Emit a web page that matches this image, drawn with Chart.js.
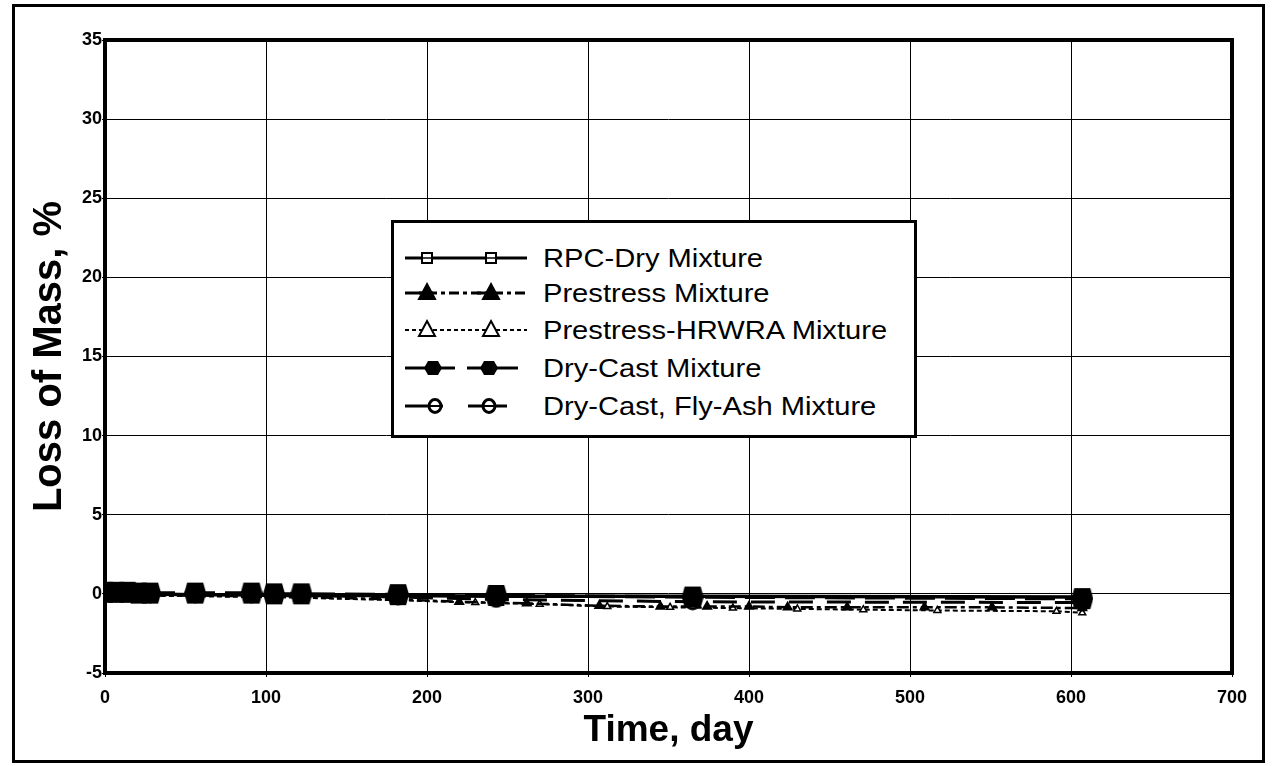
<!DOCTYPE html>
<html>
<head>
<meta charset="utf-8">
<script src="https://cdn.jsdelivr.net/npm/chart.js@4/dist/chart.umd.min.js"></script>
<style>
  html, body { margin: 0; padding: 0; background: #fff; }
  #wrap { position: relative; width: 1277px; height: 766px; }
  #legend {
    position: absolute; left: 391px; top: 220px; width: 526px; height: 218px;
    box-sizing: border-box; border: 3px solid #000; background: #fff;
    font-family: "Liberation Sans", Arial, sans-serif; color: #000;
  }
  .row { position: absolute; left: 0; height: 36px; width: 520px; }
  .row svg { position: absolute; left: 11px; top: 0; }
  .row span {
    position: absolute; left: 149px; top: 2px; font-size: 26px; line-height: 32px;
    white-space: nowrap; transform: scaleX(1.12); transform-origin: left center;
  }
</style>
</head>
<body>
<div id="wrap">
  <canvas id="c" width="1277" height="766"></canvas>
  <div id="legend"></div>
</div>
<script>
// ---- data ----
const seriesNames = ["RPC-Dry Mixture", "Prestress Mixture", "Prestress-HRWRA Mixture", "Dry-Cast Mixture", "Dry-Cast, Fly-Ash Mixture"];
const days = [0, 7, 14, 21, 28, 56, 91, 105, 122, 182, 243, 365, 607];
const rpcDryLoss = [0, 0.05, 0.05, 0, 0, -0.05, -0.05, -0.1, -0.1, -0.1, -0.15, -0.15, -0.2];
const dryCastLoss = [0.1, 0.1, 0.1, 0.05, 0.05, 0.05, 0.05, 0, 0, -0.05, -0.1, -0.2, -0.3];
const flyAshLoss = [0, 0, 0, 0, -0.05, -0.05, -0.05, -0.1, -0.1, -0.2, -0.35, -0.5, -0.55];
const prestressDays = [0, 7, 14, 21, 28, 56, 91, 105, 122, 182, 220, 262, 307, 345, 374, 400, 424, 461, 509, 551, 607];
const prestressLoss = [0, 0, -0.05, -0.05, -0.1, -0.1, -0.15, -0.15, -0.2, -0.35, -0.5, -0.6, -0.75, -0.8, -0.8, -0.8, -0.85, -0.85, -0.85, -0.85, -0.9];
const hrwraDays = [0, 7, 14, 21, 28, 56, 91, 105, 122, 182, 230, 270, 312, 351, 390, 430, 471, 517, 591, 607];
const hrwraLoss = [0, -0.05, -0.05, -0.1, -0.1, -0.15, -0.2, -0.2, -0.25, -0.4, -0.55, -0.65, -0.8, -0.85, -0.9, -0.95, -1.0, -1.05, -1.1, -1.2];
const xTicks = [0, 100, 200, 300, 400, 500, 600, 700];
const yTicks = [-5, 0, 5, 10, 15, 20, 25, 30, 35];

// ---- marker images ----
function makeCanvas(w, h, draw) {
  const c = document.createElement('canvas'); c.width = w; c.height = h;
  draw(c.getContext('2d')); return c;
}
const hexImg = makeCanvas(22, 23, g => {
  g.fillStyle = '#000'; g.beginPath();
  g.moveTo(0, 11.5); g.lineTo(3, 1); g.lineTo(19, 1); g.lineTo(22, 11.5);
  g.lineTo(19, 22); g.lineTo(3, 22); g.closePath(); g.fill();
});
const thetaImg = makeCanvas(18, 18, g => {
  g.fillStyle = '#fff'; g.strokeStyle = '#000'; g.lineWidth = 3;
  g.beginPath(); g.ellipse(9, 9, 7, 7, 0, 0, Math.PI * 2); g.fill(); g.stroke();
  g.beginPath(); g.moveTo(2, 9); g.lineTo(16, 9); g.stroke();
});

const pts = (xs, ys) => xs.map((x, i) => ({ x: x, y: ys[i] }));

const framePlugin = {
  id: 'frame',
  afterDraw(chart) {
    const { ctx, chartArea: a } = chart;
    ctx.save();
    ctx.strokeStyle = '#000';
    ctx.lineWidth = 4;
    ctx.strokeRect(a.left, a.top, a.right - a.left, a.bottom - a.top);
    ctx.lineWidth = 3;
    ctx.strokeRect(13.5, 5.5, 1250, 756);
    ctx.restore();
  }
};

const FONT = '"Liberation Sans", Arial, sans-serif';

new Chart(document.getElementById('c'), {
  type: 'scatter',
  data: {
    datasets: [
      { label: seriesNames[0], data: pts(days, rpcDryLoss), showLine: true, borderColor: '#000', borderWidth: 3.5,
        pointStyle: 'rect', pointRadius: 5, pointBackgroundColor: '#fff', pointBorderColor: '#000', pointBorderWidth: 2, order: 3 },
      { label: seriesNames[1], data: pts(prestressDays, prestressLoss), showLine: true, borderColor: '#000', borderWidth: 2.5,
        borderDash: [12, 4, 4, 4], pointStyle: 'triangle', pointRadius: 4, pointBackgroundColor: '#000', pointBorderColor: '#000', order: 4 },
      { label: seriesNames[2], data: pts(hrwraDays, hrwraLoss), showLine: true, borderColor: '#000', borderWidth: 2,
        borderDash: [5, 3], pointStyle: 'triangle', pointRadius: 4, pointBackgroundColor: '#fff', pointBorderColor: '#000', pointBorderWidth: 1.5, order: 5 },
      { label: seriesNames[3], data: pts(days, dryCastLoss), showLine: true, borderColor: '#000', borderWidth: 3.5,
        borderDash: [30, 10], pointStyle: hexImg, order: 1 },
      { label: seriesNames[4], data: pts(days, flyAshLoss), showLine: true, borderColor: '#000', borderWidth: 3,
        borderDash: [24, 14], pointStyle: thetaImg, order: 2 }
    ]
  },
  options: {
    responsive: false,
    animation: false,
    layout: { padding: { top: 40, right: 45, bottom: 0, left: 0 } },
    plugins: { legend: { display: false }, tooltip: { enabled: false } },
    scales: {
      x: {
        type: 'linear', min: 0, max: 700,
        afterBuildTicks: s => { s.ticks = xTicks.map(v => ({ value: v })); },
        afterFit: s => { s.height = 93; },
        grid: { color: '#000', lineWidth: 1, tickLength: 4, tickColor: '#000' },
        border: { display: false },
        ticks: { color: '#000', padding: 10, maxRotation: 0, font: { family: FONT, size: 18, weight: 'bold' } },
        title: { display: true, text: 'Time, day', color: '#000', padding: { top: 0, bottom: 13 },
          font: { family: FONT, size: 37, weight: 'bold' } }
      },
      y: {
        type: 'linear', min: -5, max: 35,
        afterBuildTicks: s => { s.ticks = yTicks.map(v => ({ value: v })); },
        afterFit: s => { s.width = 105; },
        grid: { color: '#000', lineWidth: 1, tickLength: 3, tickColor: '#000' },
        border: { display: false },
        ticks: { color: '#000', padding: 0, font: { family: FONT, size: 18, weight: 'bold' } },
        title: { display: true, text: 'Loss of Mass, %', color: '#000', padding: { top: 26, bottom: 0 },
          font: { family: FONT, size: 40, weight: 'bold' } }
      }
    }
  },
  plugins: [framePlugin]
});

// ---- legend (HTML) ----
const SVGNS = 'http://www.w3.org/2000/svg';
function legendSymbol(i) {
  const m1 = 22, m2 = 86, y = 18;
  let s = '';
  const line = (x1, x2, w, dash) =>
    `<line x1="${x1}" y1="${y}" x2="${x2}" y2="${y}" stroke="#000" stroke-width="${w}" ${dash ? `stroke-dasharray="${dash}"` : ''}/>`;
  const sq = cx => `<rect x="${cx - 5}" y="${y - 5}" width="10" height="10" fill="#fff" stroke="#000" stroke-width="2"/><line x1="${cx - 5}" y1="${y}" x2="${cx + 5}" y2="${y}" stroke="#000" stroke-width="1.5"/>`;
  const tri = (cx, fill) => `<polygon points="${cx},${y - 9} ${cx + 8},${y + 6} ${cx - 8},${y + 6}" fill="${fill}" stroke="#000" stroke-width="2"/>`;
  const hex = cx => `<polygon points="${cx - 9},${y} ${cx - 5},${y - 7} ${cx + 5},${y - 7} ${cx + 9},${y} ${cx + 5},${y + 7} ${cx - 5},${y + 7}" fill="#000"/>`;
  const th = cx => `<ellipse cx="${cx}" cy="${y}" rx="6" ry="6.5" fill="#fff" stroke="#000" stroke-width="3"/><line x1="${cx - 6}" y1="${y}" x2="${cx + 6}" y2="${y}" stroke="#000" stroke-width="2"/>`;
  if (i === 0) s = line(0, 122, 3) + sq(m1) + sq(m2);
  if (i === 1) s = line(0, 122, 3, '10 4 4 4') + line(10, 28, 3) + line(72, 90, 3) + tri(m1, '#000') + tri(m2, '#000');
  if (i === 2) s = line(0, 122, 2, '4 3') + tri(m1, '#fff') + tri(m2, '#fff');
  if (i === 3) s = line(0, 50, 3) + line(62, 113, 3) + hex(m1 + 6) + hex(m2 - 2);
  if (i === 4) s = line(0, 38, 3) + line(63, 102, 3) + th(m1 + 8) + th(m2 - 2);
  return `<svg xmlns="${SVGNS}" width="125" height="36" viewBox="0 0 125 36">${s}</svg>`;
}
const rowTops = [17, 52, 89, 127, 165];
const legend = document.getElementById('legend');
seriesNames.forEach((name, i) => {
  const r = document.createElement('div');
  r.className = 'row';
  r.style.top = rowTops[i] + 'px';
  r.innerHTML = legendSymbol(i) + `<span>${name}</span>`;
  legend.appendChild(r);
});
</script>
</body>
</html>
